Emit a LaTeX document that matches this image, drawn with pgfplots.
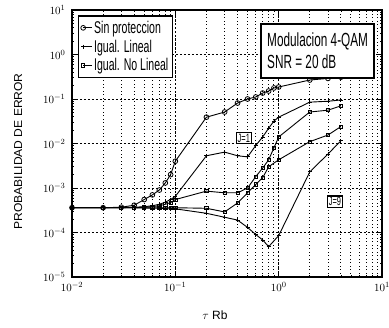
\documentclass[border=0pt]{standalone}
\usepackage{pgfplots}
\pgfplotsset{compat=1.18}
\usepackage{fontspec}
\setmainfont{Liberation Sans}
\newfontfamily\cond[FakeStretch=0.62]{Liberation Sans}
\newfontfamily\condb[FakeStretch=1.05]{Liberation Sans}
\begin{document}
\begin{tikzpicture}
\useasboundingbox (-72pt,-51pt) rectangle (317pt,277pt);
\begin{axis}[
  scale only axis, width=310pt, height=267pt,
  xmode=log, ymode=log,
  xmin=0.01, xmax=10, ymin=1e-5, ymax=10,
  axis line style={line width=1.2pt},
  tick align=inside,
  xmajorgrids, ymajorgrids, xminorgrids,
  major grid style={black, line width=0.7pt, dash pattern=on 2pt off 2pt},
  minor grid style={black, line width=0.9pt, dash pattern=on 0.9pt off 2.6pt},
  major tick length=4pt, minor tick length=2pt,
  tick style={black, line width=0.6pt},
  ticklabel style={font=\fontsize{11}{13}\selectfont},
  yticklabel style={xshift=-3pt},
  xticklabel style={yshift=-2pt},
  xlabel={$\tau$ Rb},
  ylabel={PROBABILIDAD DE ERROR},
  xlabel style={at={(axis description cs:0.461,-0.142)}, anchor=center, font=\fontsize{12}{14}\selectfont},
  ylabel style={at={(axis description cs:-0.174,0.47)}, anchor=center, font=\condb\fontsize{11.5}{13}\selectfont},
  legend style={at={(rel axis cs:0.02,0.98)}, anchor=north west, draw=black, line width=1.2pt,
    font=\cond\fontsize{17}{17}\selectfont, row sep=1pt, inner xsep=2pt, inner ysep=3pt,
    cells={anchor=west}},
  legend image code/.code={\draw[#1, line width=0.8pt, mark repeat=2, mark phase=1] plot coordinates {(0cm,0cm) (0.3cm,0cm)};},
  every axis plot/.append style={black, line width=0.9pt},
]
% Sin proteccion
\addplot[mark=o, mark size=2.4pt, mark options={fill=white, line width=0.8pt}] coordinates {
(0.01,3.6e-4) (0.02,3.6e-4) (0.03,3.7e-4) (0.04,4.1e-4) (0.05,5.5e-4) (0.06,7.0e-4)
(0.07,9.0e-4) (0.08,1.3e-3) (0.09,2.0e-3) (0.1,4.0e-3) (0.2,3.9e-2) (0.3,5.1e-2)
(0.4,8.1e-2) (0.5,0.100) (0.6,0.111) (0.7,0.136) (0.8,0.151) (0.9,0.177) (1,0.186)
(2,0.267) (3,0.29) (4,0.31)};
\addlegendentry{Sin proteccion}
% Igual. Lineal (upper)
\addplot[mark=+, mark size=2pt, mark options={line width=0.8pt}] coordinates {
(0.01,3.6e-4) (0.02,3.6e-4) (0.03,3.6e-4) (0.04,3.7e-4) (0.05,3.8e-4) (0.06,4.0e-4)
(0.07,4.3e-4) (0.08,4.8e-4) (0.09,5.5e-4) (0.1,6.5e-4) (0.2,5.3e-3) (0.3,6.4e-3)
(0.4,5.3e-3) (0.5,5.0e-3) (0.6,9.0e-3) (0.7,1.4e-2) (0.8,2.2e-2) (0.9,3.2e-2)
(1,3.9e-2) (2,8.5e-2) (3,8.9e-2) (4,9.5e-2)};
\addlegendentry{Igual. Lineal}
% Igual. No Lineal (upper)
\addplot[mark=square, mark size=1.6pt, mark options={fill=white, line width=0.8pt}] coordinates {
(0.01,3.6e-4) (0.02,3.6e-4) (0.03,3.6e-4) (0.04,3.6e-4) (0.05,3.7e-4) (0.06,3.8e-4)
(0.07,4.0e-4) (0.08,4.3e-4) (0.09,4.7e-4) (0.1,5.5e-4) (0.2,8.5e-4) (0.3,7.8e-4)
(0.4,7.8e-4) (0.5,1.0e-3) (0.6,1.8e-3) (0.7,2.8e-3) (0.8,4.3e-3) (0.9,8.0e-3)
(1,1.4e-2) (2,5.1e-2) (3,5.6e-2) (4,7.0e-2)};
\addlegendentry{Igual. No Lineal}
% Igual. No Lineal (lower)
\addplot[forget plot, mark=square, mark size=1.6pt, mark options={fill=white, line width=0.8pt}] coordinates {
(0.01,3.6e-4) (0.02,3.6e-4) (0.03,3.6e-4) (0.04,3.6e-4) (0.05,3.6e-4) (0.06,3.6e-4)
(0.07,3.6e-4) (0.08,3.6e-4) (0.09,3.6e-4) (0.1,3.6e-4) (0.2,3.5e-4) (0.3,2.9e-4)
(0.4,4.6e-4) (0.5,7.8e-4) (0.6,1.2e-3) (0.7,1.7e-3) (0.8,3.0e-3) (1,4.3e-3)
(2,1.1e-2) (3,1.55e-2) (4,2.4e-2)};
% Igual. Lineal (lower)
\addplot[forget plot, mark=+, mark size=2pt, mark options={line width=0.8pt}] coordinates {
(0.01,3.6e-4) (0.02,3.6e-4) (0.03,3.6e-4) (0.04,3.6e-4) (0.05,3.55e-4) (0.06,3.5e-4)
(0.07,3.5e-4) (0.08,3.45e-4) (0.09,3.4e-4) (0.1,3.4e-4) (0.2,2.7e-4) (0.3,2.2e-4)
(0.4,1.9e-4) (0.5,1.3e-4) (0.6,9.0e-5) (0.7,6.8e-5) (0.8,4.8e-5) (1,8.5e-5)
(2,2.3e-3) (3,5.8e-3) (4,1.15e-2)};
\coordinate (j1) at (axis cs:0.46,0.0133);
\coordinate (j9) at (axis cs:3.5,4.9e-4);
\coordinate (boxne) at (rel axis cs:0.977,0.951);
\end{axis}
\node[draw, line width=1.2pt, fill=white, inner sep=1.5pt, font=\cond\fontsize{12}{12}\selectfont] at (j1) {J=1};
\node[draw, line width=1.2pt, fill=white, inner sep=1.5pt, font=\cond\fontsize{12}{12}\selectfont] at (j9) {J=9};
\node[draw, line width=1.5pt, fill=white, anchor=north east, align=left, inner xsep=3pt, inner ysep=4pt,
  minimum width=113pt, minimum height=54pt, font=\cond\fontsize{19}{22}\selectfont]
  at (boxne) {Modulacion 4-QAM\\SNR = 20 dB};
\end{tikzpicture}
\end{document}
